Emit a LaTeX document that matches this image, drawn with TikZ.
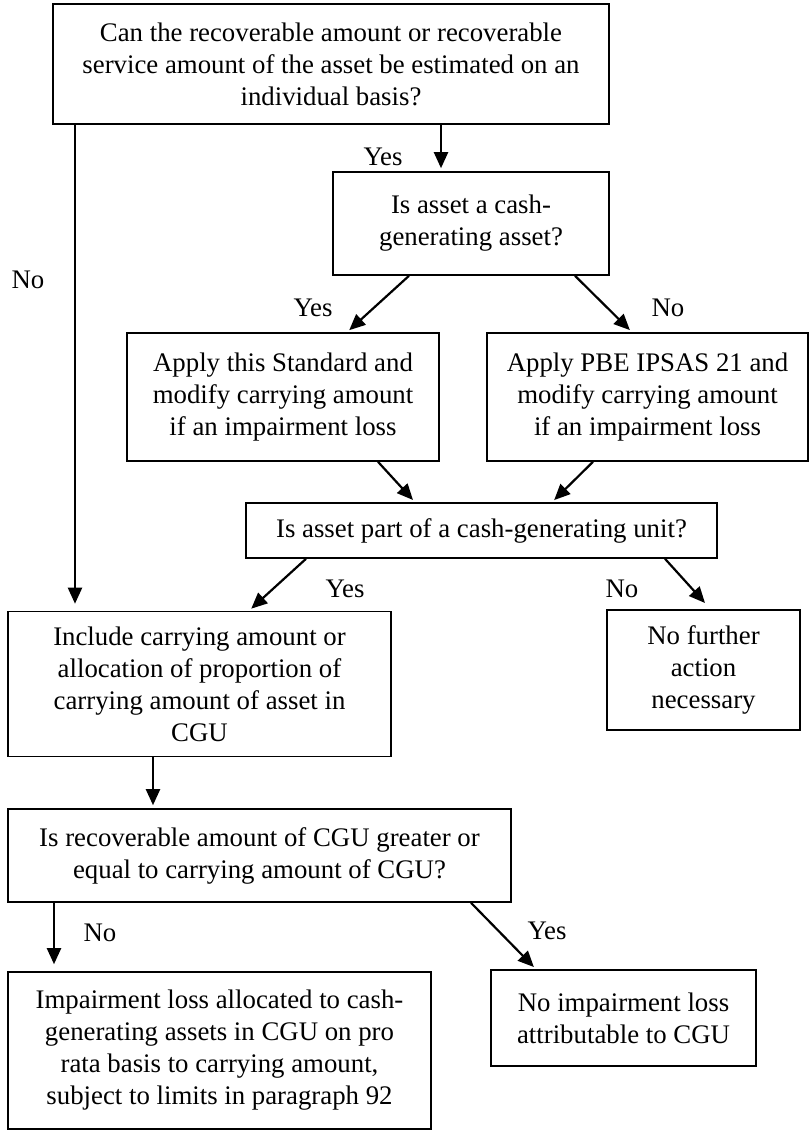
\documentclass[tikz,border=0pt]{standalone}
\usepackage{fontspec}
\setmainfont{Liberation Serif}
\usetikzlibrary{arrows.meta}

\tikzset{
  box/.style={draw=black, line width=0.8pt, align=center, inner sep=2pt,
    font=\fontsize{13.4}{16}\selectfont},
  arr/.style={line width=1.1pt, -{Triangle[length=8pt,width=7pt]}, shorten >=1.5pt},
  lbl/.style={font=\fontsize{13.4}{16}\selectfont, inner sep=0pt}
}

\begin{document}
\begin{tikzpicture}[x=0.5pt, y=-0.5pt]
  \useasboundingbox (0,0) rectangle (811,1133);
  %%%%% BOXES %%%%%
  \node[box, minimum width=278pt, minimum height=60pt] (q1) at (331,64)
    {Can the recoverable amount or recoverable\\service amount of the asset be estimated on an\\individual basis?};
  \node[box, minimum width=138pt, minimum height=51.5pt] (q2) at (471,223.5)
    {Is asset a cash-\\generating asset?};
  \node[box, minimum width=156pt, minimum height=64pt] (s3a) at (283,397)
    {Apply this Standard and\\modify carrying amount\\if an impairment loss};
  \node[box, minimum width=160.5pt, minimum height=64pt] (s3b) at (647.5,397)
    {Apply PBE IPSAS 21 and\\modify carrying amount\\if an impairment loss};
  \node[box, minimum width=235.5pt, minimum height=27.5pt] (q3) at (481.5,530.5)
    {Is asset part of a cash-generating unit?};
  \node[box, minimum width=191.5pt, minimum height=72.5pt] (s4) at (199.5,684)
    {Include carrying amount or\\allocation of proportion of\\carrying amount of asset in\\CGU};
  \node[box, minimum width=96.5pt, minimum height=60pt] (s5) at (703.5,670)
    {No further\\action\\necessary};
  \node[box, minimum width=251.5pt, minimum height=46.5pt] (q4) at (259.5,855.5)
    {Is recoverable amount of CGU greater or\\equal to carrying amount of CGU?};
  \node[box, minimum width=211.5pt, minimum height=78.5pt] (s7) at (219.5,1050.5)
    {Impairment loss allocated to cash-\\generating assets in CGU on pro\\rata basis to carrying amount,\\subject to limits in paragraph 92};
  \node[box, minimum width=132.5pt, minimum height=48pt] (s8) at (623.5,1018)
    {No impairment loss\\attributable to CGU};

  %%%%% LABELS %%%%%
  \node[lbl] (y1) at (383,157) {Yes};
  \node[lbl] (n1) at (28,280) {No};
  \node[lbl] (y2) at (313,308) {Yes};
  \node[lbl] (n2) at (668,308) {No};
  \node[lbl] (y3) at (345,589) {Yes};
  \node[lbl] (n3) at (622,589) {No};
  \node[lbl] (n4) at (100,933) {No};
  \node[lbl] (y4) at (547,931) {Yes};

  %%%%% ARROWS %%%%%
  \draw[arr] ([xshift=55pt]q1.south) -- ([xshift=-15pt]q2.north);
  \draw[arr] ([xshift=-128pt]q1.south) -- ([xshift=-62.25pt,yshift=2pt]s4.north);
  \draw[arr] ([xshift=-31pt]q2.south) -- ([xshift=32pt]s3a.north);
  \draw[arr] ([xshift=52pt]q2.south) -- ([xshift=-7.75pt]s3b.north);
  \draw[arr] ([xshift=47.5pt]s3a.south) -- ([xshift=-33.25pt]q3.north);
  \draw[arr] ([xshift=-27.25pt]s3b.south) -- ([xshift=35.25pt]q3.north);
  \draw[arr] ([xshift=-87.75pt]q3.south) -- ([xshift=24.75pt]s4.north);
  \draw[arr] ([xshift=91.75pt]q3.south) -- ([xshift=1.75pt,yshift=2pt]s5.north);
  \draw[arr] ([xshift=-23.25pt]s4.south) -- ([xshift=-53.25pt]q4.north);
  \draw[arr] ([xshift=-102.75pt]q4.south) -- ([xshift=-82.75pt,yshift=2pt]s7.north);
  \draw[arr] ([xshift=105.75pt]q4.south) -- ([xshift=-43.75pt]s8.north);
\end{tikzpicture}
\end{document}
